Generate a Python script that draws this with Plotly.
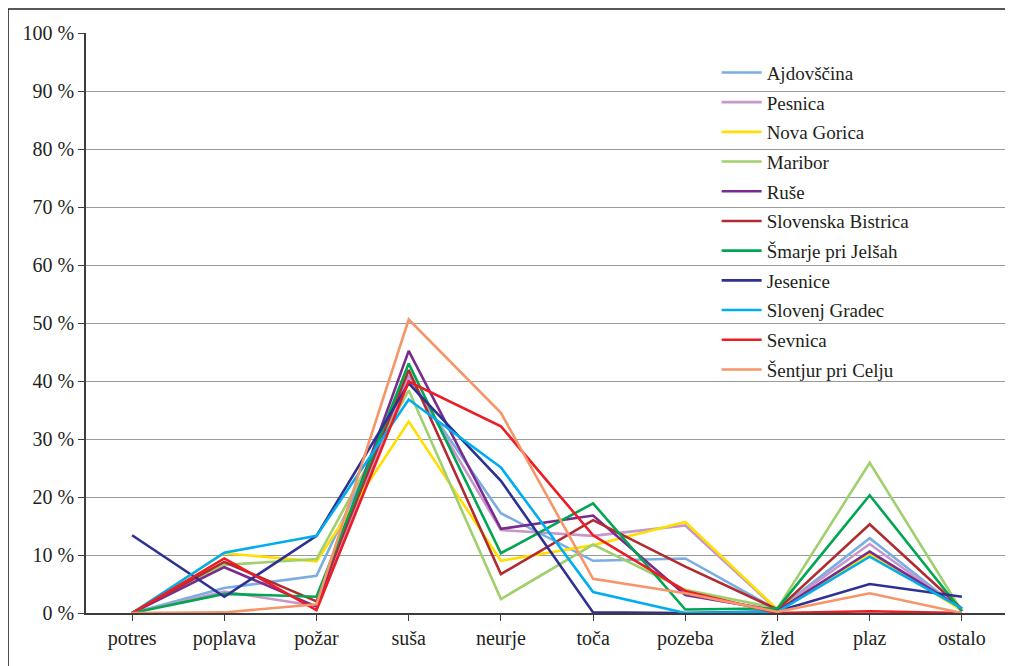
import plotly.graph_objects as go

categories = ["potres", "poplava", "požar", "suša", "neurje", "toča", "pozeba", "žled", "plaz", "ostalo"]

ajdovscina = [0, 4.3, 6.4, 40.2, 17.2, 9.0, 9.4, 0.5, 12.9, 0.4]
pesnica = [0, 3.7, 1.2, 41.0, 14.3, 13.3, 15.1, 0.5, 11.9, 0.4]
nova_gorica = [0, 10.3, 8.9, 33.0, 9.0, 11.7, 15.7, 0.6, 10.2, 0.5]
maribor = [0, 8.3, 9.3, 38.4, 2.4, 11.8, 4.0, 0.8, 25.9, 0.3]
ruse = [0, 7.9, 1.1, 45.2, 14.5, 16.8, 3.1, 0.4, 10.6, 0.8]
slovenska_bistrica = [0, 8.8, 2.0, 41.9, 6.7, 16.0, 8.0, 0.6, 15.3, 0.7]
smarje = [0, 3.3, 2.8, 43.0, 10.3, 18.9, 0.6, 0.8, 20.3, 0.3]
jesenice = [13.4, 2.8, 13.3, 39.6, 22.8, 0.1, 0.0, 0.3, 5.0, 2.8]
slovenj_gradec = [0, 10.4, 13.3, 36.8, 25.1, 3.6, 0.0, 0.2, 9.7, 0.8]
sevnica = [0, 9.4, 0.5, 39.9, 32.2, 13.4, 3.8, 0.0, 0.3, 0.0]
sentjur = [0, 0.1, 1.5, 50.6, 34.5, 5.9, 3.4, 0.2, 3.4, 0.0]

series_names = ["Ajdovščina", "Pesnica", "Nova Gorica", "Maribor", "Ruše", "Slovenska Bistrica",
                "Šmarje pri Jelšah", "Jesenice", "Slovenj Gradec", "Sevnica", "Šentjur pri Celju"]
series_values = [ajdovscina, pesnica, nova_gorica, maribor, ruse, slovenska_bistrica,
                 smarje, jesenice, slovenj_gradec, sevnica, sentjur]
series_colors = ["#7aaee2", "#c796cb", "#ffdf00", "#a0d06e", "#7a2b90", "#b02c30",
                 "#00a651", "#2e3192", "#00aeef", "#ed1c24", "#f7956a"]

y_ticks = list(range(0, 101, 10))
y_tick_labels = [f"{v} %" for v in y_ticks]

FONT = "'Liberation Serif', 'DejaVu Serif', serif"
TXT = "#231f20"

L, R, T, B = 78, 13, 25, 61
W, H = 1013, 666
PW, PH = W - L - R, H - T - B

fig = go.Figure()
for name, vals, col in zip(series_names, series_values, series_colors):
    fig.add_trace(go.Scatter(x=categories, y=vals, name=name, mode="lines",
                             legendgroup=name,
                             line=dict(color=col, width=2.6)))

fig.update_layout(
    width=W, height=H,
    margin=dict(l=L, r=R, t=T, b=B),
    paper_bgcolor="white", plot_bgcolor="white",
    font=dict(family=FONT, size=19, color=TXT),
    showlegend=True,
    legend=dict(x=0.684, y=0.9645, xanchor="left", yanchor="top",
                font=dict(family=FONT, size=19, color=TXT),
                bgcolor="rgba(0,0,0,0)", tracegroupgap=2, itemwidth=40),
    xaxis=dict(type="category", range=[-0.5, 9.5], showgrid=False,
               showline=True, linecolor="#3c3c3c", linewidth=1.5,
               ticks="outside", ticklen=6, tickcolor="#3c3c3c",
               tickfont=dict(family=FONT, size=20, color=TXT), fixedrange=True),
    yaxis=dict(range=[0, 100], tickvals=y_ticks, ticktext=y_tick_labels,
               showgrid=True, gridcolor="#9a9a9a", gridwidth=1,
               showline=True, linecolor="#3c3c3c", linewidth=1.5,
               ticks="outside", ticklen=6, tickcolor="#3c3c3c",
               tickfont=dict(family=FONT, size=20, color=TXT),
               zeroline=False, fixedrange=True),
    shapes=[dict(type="rect", xref="paper", yref="paper",
                 x0=-L / PW, x1=1.2, y0=-0.3, y1=1 + (T - 1) / PH,
                 line=dict(color="#222222", width=1.6), layer="above")],
)

fig.write_html("out.html")
